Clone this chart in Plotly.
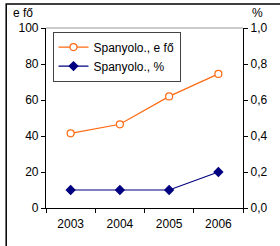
import plotly.graph_objects as go

years = ["2003", "2004", "2005", "2006"]
efo = [41.5, 46.5, 62, 74.5]
pct = [0.1, 0.1, 0.1, 0.2]
name_efo = "Spanyolo., e fő"
name_pct = "Spanyolo., %"
left_ticks = [0, 20, 40, 60, 80, 100]
right_ticks = [0, 0.2, 0.4, 0.6, 0.8, 1.0]
right_labels = ["0,0", "0,2", "0,4", "0,6", "0,8", "1,0"]

FONT = dict(family="Liberation Sans, Arial, sans-serif", size=12, color="#000000")

fig = go.Figure()
fig.add_trace(go.Scatter(
    x=years, y=efo, name=name_efo, mode="lines+markers",
    line=dict(color="#FF6A13", width=1.2),
    marker=dict(symbol="circle", size=7, color="white", line=dict(color="#FF6A13", width=1.2)),
    yaxis="y",
))
fig.add_trace(go.Scatter(
    x=years, y=pct, name=name_pct, mode="lines+markers",
    line=dict(color="#000080", width=1.2),
    marker=dict(symbol="diamond", size=8, color="#000080"),
    yaxis="y2",
))

fig.update_layout(
    width=280, height=246,
    margin=dict(l=46, r=31, t=28, b=38),
    paper_bgcolor="white", plot_bgcolor="white",
    font=FONT,
    showlegend=True,
    legend=dict(
        x=0.033, y=0.98, xanchor="left", yanchor="top",
        bgcolor="white", bordercolor="#444444", borderwidth=1,
        font=dict(size=12), itemwidth=30, tracegroupgap=0,
    ),
    xaxis=dict(
        type="category", range=[-0.5, 3.5],
        showline=True, linecolor="#000000", linewidth=1.2,
        ticks="outside", ticklen=4, tickcolor="#000000", tickson="boundaries",
        showgrid=False, zeroline=False, ticklabelstandoff=4,
    ),
    yaxis=dict(
        range=[0, 100], tickvals=left_ticks,
        showline=True, linecolor="#000000", linewidth=1.2,
        ticks="outside", ticklen=4, tickcolor="#000000",
        showgrid=False, zeroline=False,
    ),
    yaxis2=dict(
        range=[0, 1], tickvals=right_ticks, ticktext=right_labels,
        overlaying="y", side="right",
        showline=True, linecolor="#000000", linewidth=1.2,
        ticks="outside", ticklen=4, tickcolor="#000000",
        showgrid=False, zeroline=False,
    ),
    yaxis3=dict(
        range=[0, 100], tickvals=left_ticks, overlaying="y", side="left",
        ticks="inside", ticklen=3, tickcolor="#000000", showticklabels=False,
        showline=False, showgrid=False, zeroline=False,
    ),
    yaxis4=dict(
        range=[0, 1], tickvals=right_ticks, overlaying="y", side="right",
        ticks="inside", ticklen=3, tickcolor="#000000", showticklabels=False,
        showline=False, showgrid=False, zeroline=False,
    ),
)

# plot area top border (gray)
fig.add_shape(type="line", xref="paper", yref="paper", x0=0, x1=1, y0=1, y1=1,
              line=dict(color="#999999", width=1))
# outer chart border
fig.add_shape(type="rect", xref="paper", yref="paper", x0=-0.202, x1=1.2, y0=-0.3, y1=1.133,
              line=dict(color="#000000", width=1.5), fillcolor="rgba(0,0,0,0)", layer="below")

fig.add_annotation(text="e fő", xref="paper", yref="paper", x=-0.18, y=1.085,
                   xanchor="left", yanchor="middle", showarrow=False, font=FONT)
fig.add_annotation(text="%", xref="paper", yref="paper", x=1.035, y=1.085,
                   xanchor="left", yanchor="middle", showarrow=False, font=FONT)

fig.write_html(
    "out.html",
    config={"displayModeBar": False},
    post_script="document.body.style.margin='0';document.body.style.overflow='hidden';",
)
